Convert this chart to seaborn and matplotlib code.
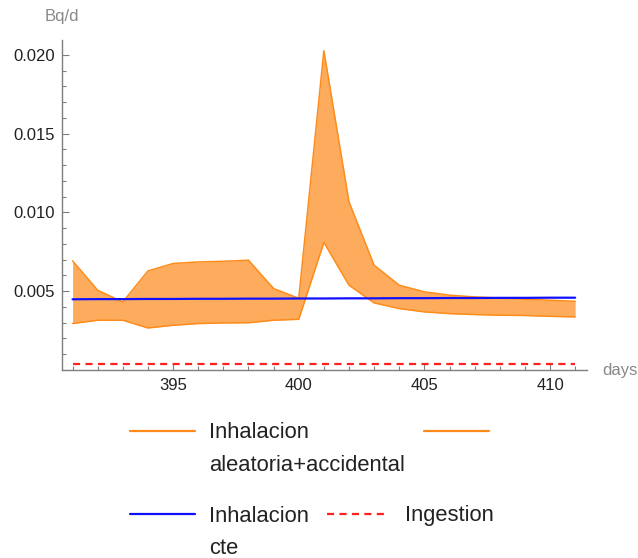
import matplotlib
matplotlib.use("Agg")
import matplotlib.pyplot as plt
from matplotlib.lines import Line2D
from matplotlib.ticker import MultipleLocator, FixedLocator, FormatStrFormatter
import seaborn as sns
import numpy as np
import pandas as pd

# values (Bq/d per day)
days = [391, 392, 393, 394, 395, 396, 397, 398, 399, 400, 401,
        402, 403, 404, 405, 406, 407, 408, 409, 410, 411]
upper = [0.00693, 0.00506, 0.00432, 0.00629, 0.00676, 0.00686, 0.00690,
         0.00697, 0.00517, 0.00455, 0.02027, 0.01067, 0.00665, 0.00538,
         0.00496, 0.00475, 0.00464, 0.00457, 0.00449, 0.00443, 0.00436]
lower = [0.00295, 0.00316, 0.00316, 0.00267, 0.00284, 0.00295, 0.00299,
         0.00300, 0.00316, 0.00322, 0.00810, 0.00538, 0.00426, 0.00390,
         0.00369, 0.00358, 0.00352, 0.00348, 0.00346, 0.00341, 0.00337]
inh_cte = [0.00449, 0.00450, 0.00450, 0.00451, 0.00451, 0.00452, 0.00452,
           0.00453, 0.00453, 0.00454, 0.00454, 0.00455, 0.00455, 0.00456,
           0.00456, 0.00457, 0.00457, 0.00458, 0.00458, 0.00459, 0.00459]
ingestion = [0.00038] * 21
y_ticks = [0.005, 0.010, 0.015, 0.020]

df = pd.DataFrame({"day": days, "upper": upper, "lower": lower,
                   "cte": inh_cte, "ing": ingestion})

sns.set_style("white")
plt.rcParams["font.family"] = ["Liberation Sans", "DejaVu Sans"]

ORANGE = "#FF8C1A"
FILL = "#FDAC5E"
AXC = "#7f7f7f"

fig = plt.figure(figsize=(6.38, 5.58), dpi=100)
ax = fig.add_axes([62 / 638, 1 - 370 / 558, 525 / 638, 330 / 558])

ax.fill_between(df["day"], df["lower"], df["upper"], color=FILL, lw=0)
sns.lineplot(data=df, x="day", y="upper", ax=ax, color=ORANGE, lw=1.1)
sns.lineplot(data=df, x="day", y="lower", ax=ax, color=ORANGE, lw=1.1)
sns.lineplot(data=df, x="day", y="cte", ax=ax, color="#1010ff", lw=1.6)
sns.lineplot(data=df, x="day", y="ing", ax=ax, color="#ff2020", lw=1.6,
             dashes=False, linestyle=(0, (3.2, 2.4)))

ax.set_xlim(390.58, 411.47)
ax.set_ylim(0, 0.02095)
ax.set_xlabel("")
ax.set_ylabel("")

for s in ["top", "right"]:
    ax.spines[s].set_visible(False)
for s in ["left", "bottom"]:
    ax.spines[s].set_color(AXC)
    ax.spines[s].set_linewidth(1.0)

ax.xaxis.set_major_locator(MultipleLocator(5))
ax.xaxis.set_minor_locator(MultipleLocator(1))
ax.yaxis.set_major_locator(FixedLocator(y_ticks))
ax.yaxis.set_minor_locator(MultipleLocator(0.001))
ax.yaxis.set_major_formatter(FormatStrFormatter("%.3f"))
ax.tick_params(which="both", direction="in", color=AXC, width=0.8,
               labelsize=12, labelcolor="#222222")
ax.tick_params(which="major", length=4.8)
ax.tick_params(which="minor", length=2.8)
ax.tick_params(axis="y", which="major", pad=5)
ax.tick_params(axis="x", which="major", pad=6)
ax.tick_params(which="both", bottom=True, left=True)

fig.text(62 / 638, 1 - 17 / 558, "Bq/d", ha="center", va="center",
         fontsize=12, color="#888888")
fig.text(602 / 638, 1 - 370 / 558, "days", ha="left", va="center",
         fontsize=12, color="#888888")

# legend drawn by hand so the keys sit on the first text line
def key(x0, x1, y, **kw):
    fig.add_artist(Line2D([x0 / 638, x1 / 638], [1 - y / 558, 1 - y / 558],
                          transform=fig.transFigure, **kw))

def label(x, y, s):
    fig.text(x / 638, 1 - (y - 8.5) / 558, s, ha="left", va="top",
             fontsize=15.8, color="#222222", linespacing=1.72)

key(130, 195, 431, color=ORANGE, lw=1.6)
label(209, 431, "Inhalacion\naleatoria+accidental")
key(424, 489, 431, color=ORANGE, lw=1.6)
key(130, 195, 514, color="#1010ff", lw=1.6)
label(209, 514, "Inhalacion\ncte")
key(327, 388, 514, color="#ff2020", lw=1.6, linestyle=(0, (3.2, 2.4)))
label(405, 514, "Ingestion")

fig.savefig("out.png", dpi=100)
